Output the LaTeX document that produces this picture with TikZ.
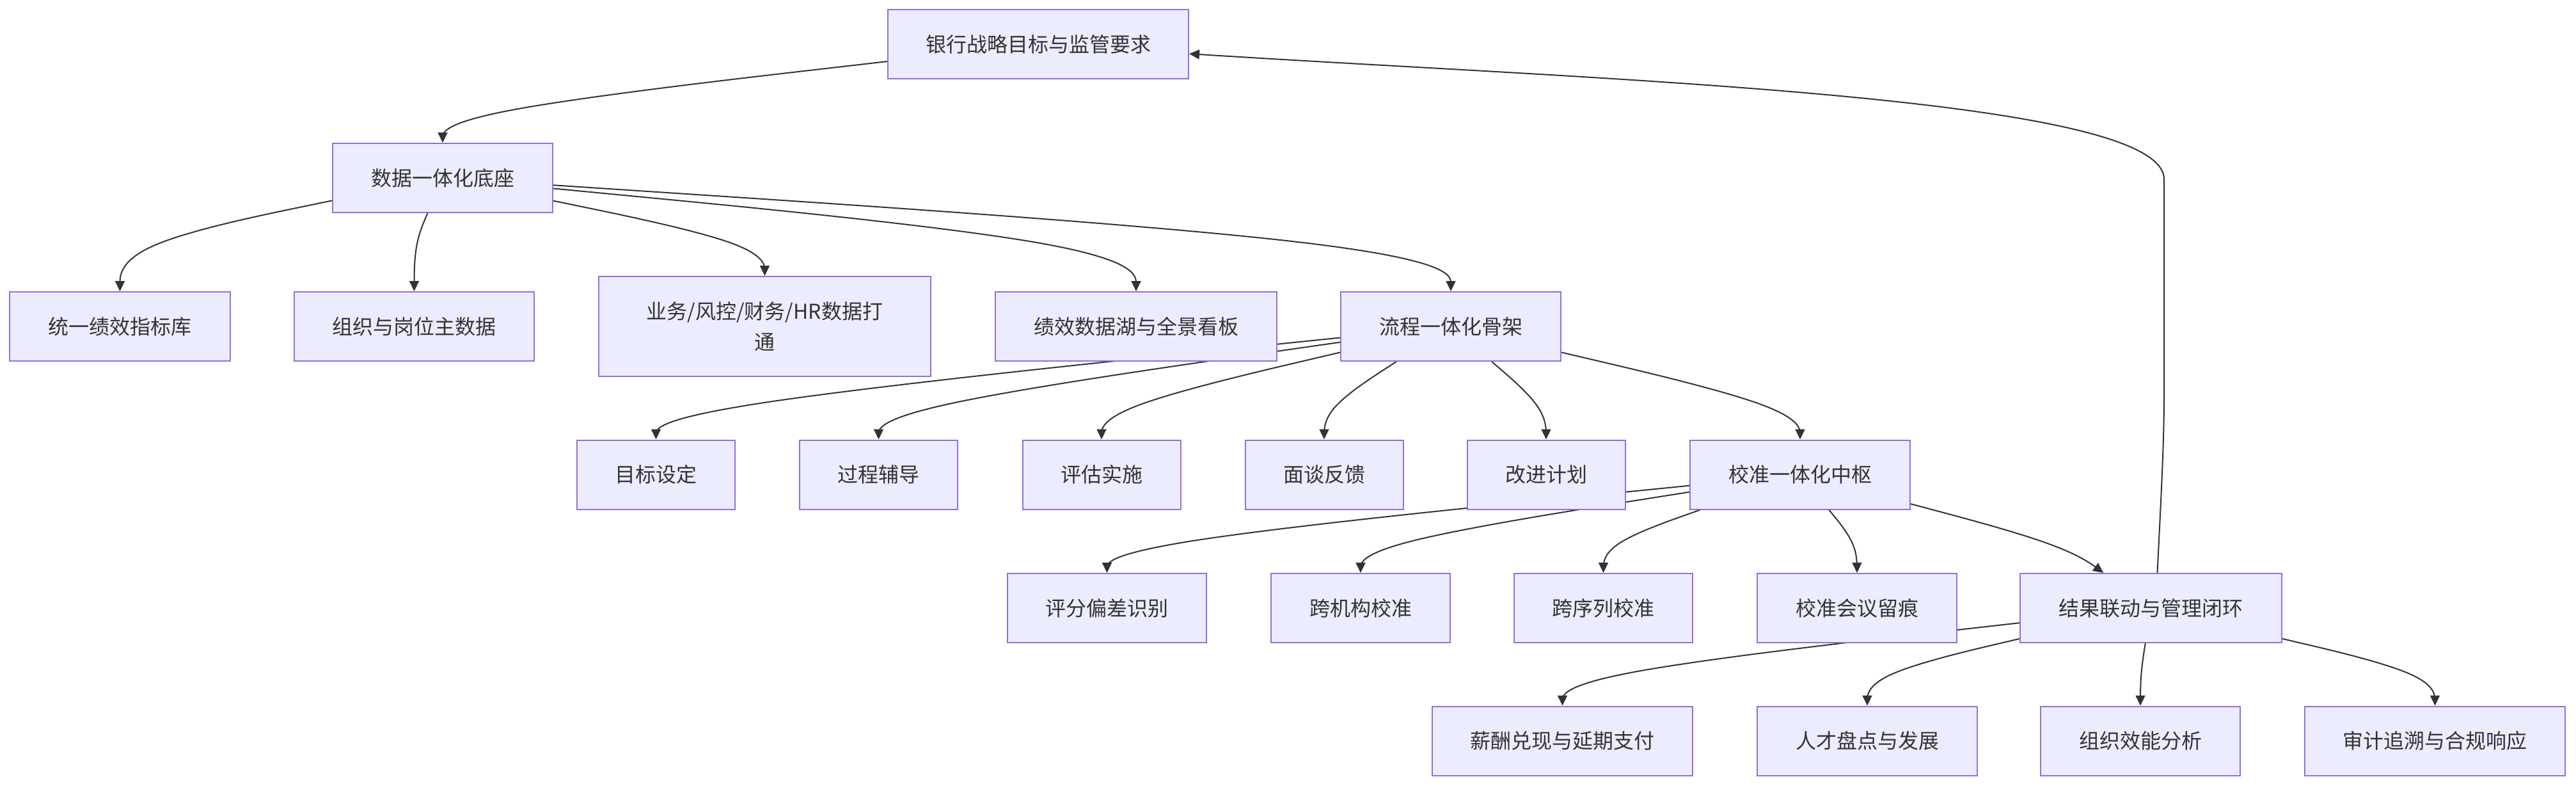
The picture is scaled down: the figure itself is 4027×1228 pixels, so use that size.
\documentclass[tikz,border=0pt]{standalone}
\usepackage{fontspec}
\newfontfamily\cjk{Noto Sans CJK SC}
\usetikzlibrary{arrows.meta,calc}
\definecolor{boxfill}{HTML}{ECECFF}
\definecolor{boxline}{HTML}{9370DB}
\definecolor{ink}{HTML}{333333}
\pgfdeclarelayer{bg}
\pgfdeclarelayer{edges}
\pgfsetlayers{bg,edges,main}
% basis-spline connector: source node, target node, middle point
\newcommand\basisedge[3]{%
  \coordinate (bm) at #3;
  \path (#1) -- (bm) coordinate[pos=0] (bs);
  \path (#2) -- (bm) coordinate[pos=0] (bt);
  \draw[edge] (bs) -- ($(bs)!1/6!(bm)$)
    .. controls ($(bs)!1/3!(bm)$) and ($(bs)!2/3!(bm)$)
    .. ($(bs)!0.5!(bt)!2/3!(bm)$)
    .. controls ($(bm)!1/3!(bt)$) and ($(bm)!2/3!(bt)$)
    .. ($(bm)!5/6!(bt)$) -- (bt);
}
\begin{document}
\begin{tikzpicture}[x=1pt,y=-1pt,
  box/.style={draw=boxline, fill=boxfill, line width=2pt, minimum height=108pt,
    inner sep=0pt, text=ink, align=center,
    font=\cjk\fontsize{32pt}{48pt}\selectfont},
  edge/.style={draw=ink, line width=2pt, -{Triangle[length=16pt,width=15pt]}},
]
\useasboundingbox (0,0) rectangle (4027,1228);
\begin{pgfonlayer}{bg}
\fill[white] (0,0) rectangle (4027,1228);
\end{pgfonlayer}

% row 0
\node[box, minimum width=470pt] (top) at (1623,69) {银行战略目标与监管要求};
% row 1
\node[box, minimum width=344pt] (data) at (692,278) {数据一体化底座};
% row 2
\node[box, minimum width=345pt] (kpi) at (187.5,510) {统一绩效指标库};
\node[box, minimum width=375pt] (org) at (647.5,510) {组织与岗位主数据};
\node[box, minimum width=519pt, minimum height=156pt] (link) at (1195.5,510) {业务/风控/财务/HR数据打\\通};
\node[box, minimum width=440pt] (lake) at (1776,510) {绩效数据湖与全景看板};
\node[box, minimum width=344pt] (proc) at (2268,510) {流程一体化骨架};
% row 3
\node[box, minimum width=247pt] (goal) at (1025.5,741.5) {目标设定};
\node[box, minimum width=247pt] (coach) at (1373.5,741.5) {过程辅导};
\node[box, minimum width=247pt] (eval) at (1722,741.5) {评估实施};
\node[box, minimum width=247pt] (talk) at (2070,741.5) {面谈反馈};
\node[box, minimum width=247pt] (improve) at (2417,741.5) {改进计划};
\node[box, minimum width=344pt] (cal) at (2814,741.5) {校准一体化中枢};
% row 4
\node[box, minimum width=311pt] (bias) at (1730.5,950) {评分偏差识别};
\node[box, minimum width=280pt] (inst) at (2127,950) {跨机构校准};
\node[box, minimum width=279pt] (seq) at (2506.5,950) {跨序列校准};
\node[box, minimum width=312pt] (meet) at (2903,950) {校准会议留痕};
\node[box, minimum width=409pt] (res) at (3362.5,950) {结果联动与管理闭环};
% row 5
\node[box, minimum width=407pt] (pay) at (2442.5,1157.5) {薪酬兑现与延期支付};
\node[box, minimum width=344pt] (talent) at (2919,1157.5) {人才盘点与发展};
\node[box, minimum width=312pt] (eff) at (3346,1157.5) {组织效能分析};
\node[box, minimum width=407pt] (audit) at (3806.5,1157.5) {审计追溯与合规响应};

\begin{pgfonlayer}{edges}
\coordinate (m01) at (0,176);
\coordinate (m12) at (0,382);
\coordinate (m23) at (0,638);
\coordinate (m34) at (0,850);
\coordinate (m45) at (0,1054);
\basisedge{top}{data}{(data.north |- m01)}
\basisedge{data}{kpi}{(kpi.north |- m12)}
\basisedge{data}{org}{(org.north |- m12)}
\basisedge{data}{link}{(link.north |- m12)}
\basisedge{data}{lake}{(lake.north |- m12)}
\basisedge{data}{proc}{(proc.north |- m12)}
\basisedge{proc}{goal}{(goal.north |- m23)}
\basisedge{proc}{coach}{(coach.north |- m23)}
\basisedge{proc}{eval}{(eval.north |- m23)}
\basisedge{proc}{talk}{(talk.north |- m23)}
\basisedge{proc}{improve}{(improve.north |- m23)}
\basisedge{proc}{cal}{(cal.north |- m23)}
\basisedge{cal}{bias}{(bias.north |- m34)}
\basisedge{cal}{inst}{(inst.north |- m34)}
\basisedge{cal}{seq}{(seq.north |- m34)}
\basisedge{cal}{meet}{(meet.north |- m34)}
\basisedge{cal}{res}{(3230,852)}
\basisedge{res}{pay}{(pay.north |- m45)}
\basisedge{res}{talent}{(talent.north |- m45)}
\basisedge{res}{eff}{(eff.north |- m45)}
\basisedge{res}{audit}{(audit.north |- m45)}
% feedback loop
\draw[edge] ($(res.north)+(10,0)$) .. controls (3377,800) and (3383,700) .. (3383,620)
  -- (3383,280) .. controls (3383,150) and (2500,125) .. ($(top.east)+(0,15)$);
\end{pgfonlayer}
\end{tikzpicture}
\end{document}
